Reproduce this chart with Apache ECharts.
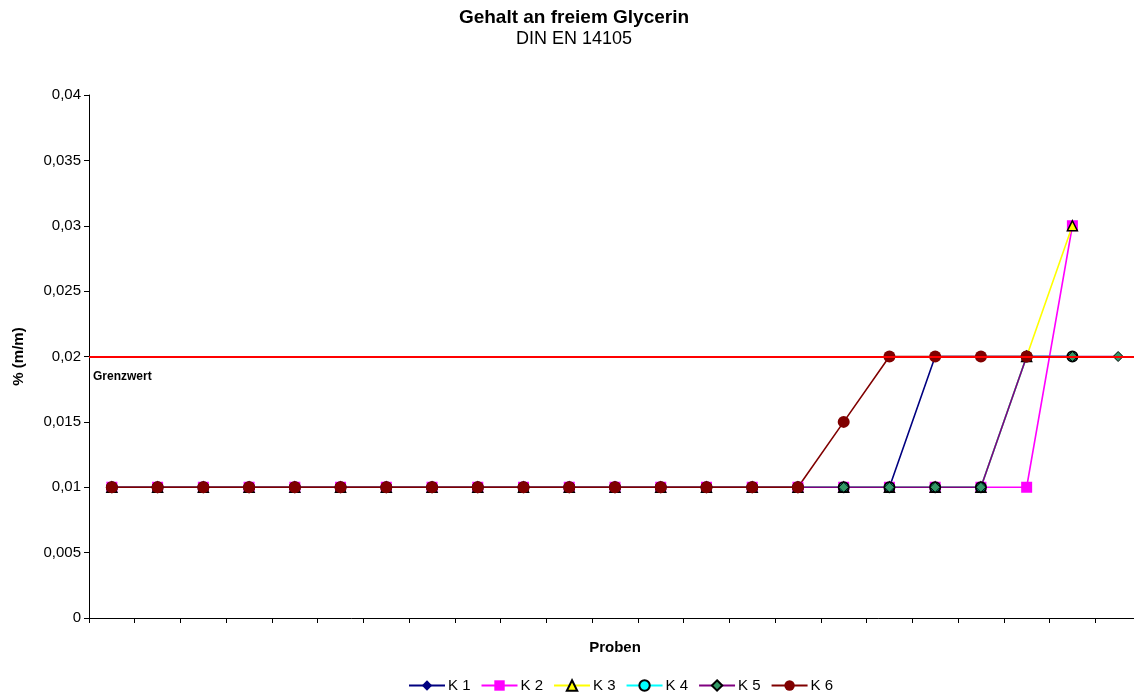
<!DOCTYPE html>
<html><head><meta charset="utf-8">
<script src="https://cdn.jsdelivr.net/npm/echarts@6/dist/echarts.min.js"></script>
<style>html,body{margin:0;padding:0;background:#fff;overflow:hidden;width:1134px;height:695px}#c{width:1160px;height:695px}</style>
</head><body><div id="c"></div>
<script>
const categories = Array.from({length: 23}, (_, i) => String(i + 1));
const yTicks = [0, 0.005, 0.01, 0.015, 0.02, 0.025, 0.03, 0.035, 0.04];
const limitValue = 0.02;
const K1 = [0.01,0.01,0.01,0.01,0.01,0.01,0.01,0.01,0.01,0.01,0.01,0.01,0.01,0.01,0.01,0.01,0.01,0.01,0.02,0.02,0.02,0.02,null];
const K2 = [0.01,0.01,0.01,0.01,0.01,0.01,0.01,0.01,0.01,0.01,0.01,0.01,0.01,0.01,0.01,0.01,0.01,0.01,0.01,0.01,0.01,0.03,null];
const K3 = [0.01,0.01,0.01,0.01,0.01,0.01,0.01,0.01,0.01,0.01,0.01,0.01,0.01,0.01,0.01,0.01,0.01,0.01,0.01,0.01,0.02,0.03,null];
const K4 = [0.01,0.01,0.01,0.01,0.01,0.01,0.01,0.01,0.01,0.01,0.01,0.01,0.01,0.01,0.01,0.01,0.01,0.01,0.01,0.01,0.02,0.02,null];
const K5 = [0.01,0.01,0.01,0.01,0.01,0.01,0.01,0.01,0.01,0.01,0.01,0.01,0.01,0.01,0.01,0.01,0.01,0.01,0.01,0.01,0.02,0.02,0.02];
const K6 = [0.01,0.01,0.01,0.01,0.01,0.01,0.01,0.01,0.01,0.01,0.01,0.01,0.01,0.01,0.01,0.01,0.015,0.02,0.02,0.02,0.02,null,null];

const FONT = '"Liberation Sans", Arial, sans-serif';
function fmt(v){ return String(v).replace('.', ','); }
function mk(name, data, color, symbol, size, fill, border, bw, extra){
  return Object.assign({
    name, type: 'line', data, symbol, symbolSize: size,
    showAllSymbol: true, connectNulls: false,
    lineStyle: {color, width: 1.6},
    itemStyle: {color: fill, borderColor: border, borderWidth: bw},
    emphasis: {disabled: true}, animation: false
  }, extra || {});
}
const chart = echarts.init(document.getElementById('c'));
chart.setOption({
  backgroundColor: '#fff',
  animation: false,
  title: {
    text: 'Gehalt an freiem Glycerin', subtext: 'DIN EN 14105',
    left: 569, textAlign: 'center', top: 3, itemGap: 3,
    textStyle: {fontFamily: FONT, fontSize: 19, fontWeight: 'bold', color: '#000'},
    subtextStyle: {fontFamily: FONT, fontSize: 18, color: '#000'}
  },
  legend: {
    bottom: 2, left: 408, padding: 0, itemWidth: 36, itemHeight: 13, itemGap: 10,
    textStyle: {fontFamily: FONT, fontSize: 15, color: '#000', padding: [0, 0, 0, -2]},
    data: ['K 1','K 2','K 3','K 4','K 5','K 6']
  },
  grid: {left: 89, top: 95, width: 1052, bottom: 77, containLabel: false},
  xAxis: {
    type: 'category', data: categories, boundaryGap: true,
    name: 'Proben', nameLocation: 'middle', nameGap: 22,
    nameTextStyle: {fontFamily: FONT, fontSize: 15, fontWeight: 'bold', color: '#000'},
    axisLine: {lineStyle: {color: '#000', width: 1}},
    axisTick: {show: true, alignWithLabel: false, length: 5, lineStyle: {color: '#000'}},
    axisLabel: {show: false}, splitLine: {show: false}
  },
  yAxis: {
    type: 'value', min: yTicks[0], max: yTicks[yTicks.length-1], interval: 0.005,
    name: '% (m/m)', nameLocation: 'middle', nameGap: 63, nameRotate: 90,
    nameTextStyle: {fontFamily: FONT, fontSize: 15, fontWeight: 'bold', color: '#000'},
    axisLine: {show: true, lineStyle: {color: '#000', width: 1}},
    axisTick: {show: true, length: 5, lineStyle: {color: '#000'}},
    axisLabel: {fontFamily: FONT, fontSize: 15, color: '#000', margin: 8, formatter: fmt},
    splitLine: {show: false}
  },
  series: [
    mk('K 1', K1, '#000080', 'diamond', 10, '#000080', '#000080', 0),
    mk('K 2', K2, '#FF00FF', 'rect', 11, '#FF00FF', '#FF00FF', 0),
    mk('K 3', K3, '#FFFF00', 'triangle', 10, '#FFFF00', '#000000', 1.5),
    mk('K 4', K4, '#00FFFF', 'circle', 10, '#00FFFF', '#000000', 2),
    mk('K 5', K5, '#800080', 'diamond', 10, '#339966', '#000000', 1),
    mk('K 6', K6, '#800000', 'circle', 12, '#800000', '#800000', 0, {
      markLine: {
        silent: true, symbol: 'none', animation: false,
        lineStyle: {color: '#FF0000', width: 2, type: 'solid'},
        label: {show: false},
        data: [{yAxis: limitValue}]
      }
    })
  ],
  graphic: []
});
const p = chart.convertToPixel({gridIndex: 0}, [0, limitValue]);
chart.setOption({graphic: [{
  type: 'text', left: 93, top: p[1] + 14,
  style: {text: 'Grenzwert', font: 'bold 12px ' + FONT, fill: '#000'}
}]});
</script></body></html>
